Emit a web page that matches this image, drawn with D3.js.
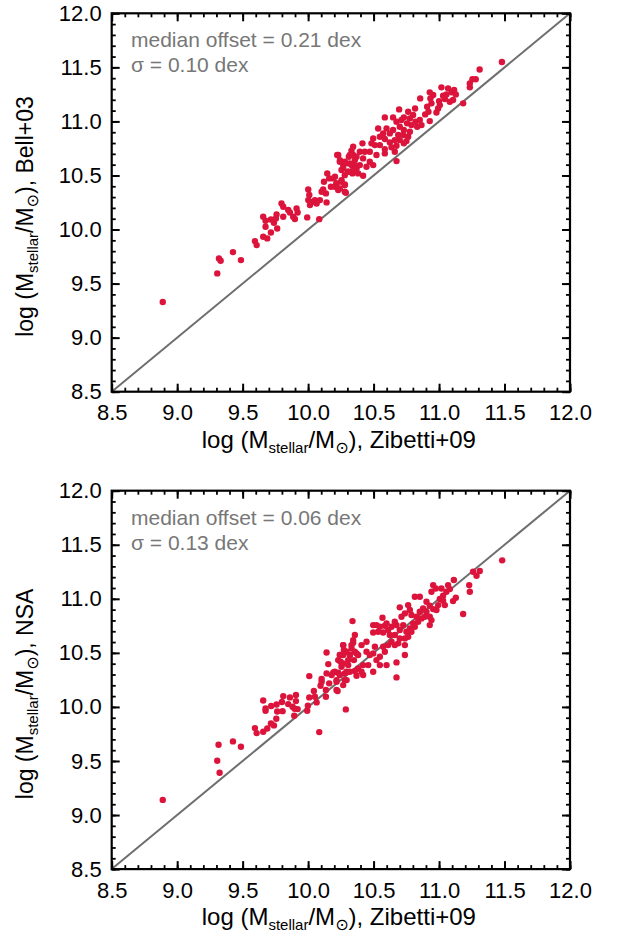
<!DOCTYPE html>
<html>
<head>
<meta charset="utf-8">
<script src="https://cdn.jsdelivr.net/npm/d3@7"></script>
<style>
  html, body { margin: 0; padding: 0; background: #fff; }
  svg { display: block; }
  text { font-family: "Liberation Sans", Arial, Helvetica, sans-serif; }
</style>
</head>
<body>
<svg id="chart" width="618" height="935"></svg>
<script>
// ---------- data ----------
const axisDomain = [8.5, 12.0];
const majorTicks = [8.5, 9.0, 9.5, 10.0, 10.5, 11.0, 11.5, 12.0];
const xTitleSource = "Zibetti+09";
const panelSources = ["Bell+03", "NSA"];
const medianOffsets = ["0.21", "0.06"];
const sigmas = ["0.10", "0.13"];

// [Zibetti+09, Bell+03]
const bellPoints = [
 [8.89,9.33],[9.306,9.594],[9.319,9.733],[9.332,9.711],[9.426,9.791],[9.487,9.717],
 [9.594,9.893],[9.607,9.856],[9.657,9.933],[9.688,9.918],[9.657,10.118],[9.675,10.081],
 [9.675,10.026],[9.716,10.093],[9.716,9.973],[9.739,10.063],[9.754,10.103],[9.759,10.14],
 [9.764,10.01],[9.797,10.241],[9.81,10.211],[9.81,10.118],[9.848,10.18],[9.861,10.158],
 [9.886,10.118],[9.899,10.097],[9.912,10.195],[9.92,10.158],[9.993,10.112],[10.085,10.096],
 [10.001,10.371],[10.009,10.319],[10.001,10.272],[10.039,10.257],[10.014,10.226],[10.065,10.241],
 [10.052,10.272],[10.09,10.272],[10.103,10.349],[10.115,10.371],[10.136,10.334],[10.141,10.251],
 [10.121,10.442],[10.146,10.519],[10.161,10.473],[10.174,10.396],[10.205,10.488],[10.217,10.427],
 [10.23,10.365],[10.255,10.457],[10.281,10.417],[10.288,10.34],[10.222,10.689],[10.243,10.642],
 [10.268,10.596],[10.255,10.55],[10.294,10.612],[10.332,10.596],[10.357,10.642],[10.37,10.565],
 [10.306,10.534],[10.339,10.519],[10.311,10.673],[10.344,10.689],
 [11.48,11.55],[11.31,11.48],[11.28,11.39],[11.255,11.39],[11.235,11.35],[11.235,11.315],
 [11.184,11.167],[11.115,11.29],[11.095,11.27],[11.128,11.25],[11.107,11.198],[11.069,11.306],
 [11.056,11.25],[11.031,11.238],[11.018,11.315],[11.0,11.188],[11.044,11.207],[10.955,11.244],
 [10.934,11.213],[10.942,11.167],[10.993,11.12],[10.98,11.083],[10.909,11.136],[10.919,11.09],
 [10.894,11.065],[10.929,11.003],[10.856,11.213],[10.817,11.12],[10.764,11.09],[10.695,11.111],
 [10.731,11.037],[10.649,11.037],[10.586,11.037],[10.853,11.013],[10.82,10.997],[10.789,10.966],
 [10.756,10.982],[10.833,10.951],[10.866,10.966],[10.7,10.951],[10.675,10.997],[10.731,10.92],
 [10.777,10.905],[10.764,10.858],[10.726,10.874],[10.688,10.874],[10.649,10.92],[10.624,10.889],
 [10.599,10.935],[10.573,10.889],[10.535,10.935],[10.497,10.843],[10.548,10.858],[10.586,10.837],
 [10.624,10.806],[10.662,10.827],[10.7,10.827],[10.731,10.797],[10.751,10.818],[10.675,10.775],
 [10.637,10.76],[10.586,10.744],[10.548,10.781],[10.51,10.781],[10.484,10.797],[10.415,10.797],
 [10.471,10.72],[10.522,10.689],[10.433,10.72],[10.395,10.72],[10.344,10.766],[10.331,10.729],
 [10.319,10.689],[10.37,10.673],[10.42,10.658],[10.471,10.627],[10.497,10.596],[10.446,10.581],
 [10.395,10.596],[10.357,10.596],[10.319,10.611],[10.28,10.627],[10.242,10.627],[10.23,10.689],
 [10.268,10.565],[10.306,10.534],[10.344,10.55],[10.382,10.519],[10.42,10.497],[10.28,10.503],
 [10.675,10.633],[10.662,10.72],[10.586,10.704],[10.191,10.473],[10.217,10.426],[10.255,10.442],
 [10.28,10.411],[10.28,10.35],[10.242,10.38],[10.204,10.396],
 [10.777,11.028],[10.802,11.059],[10.713,11.013],[10.929,11.269],[11.006,11.151],[11.082,11.182]
];

// [Zibetti+09, NSA]
const nsaPoints = [
 [8.89,9.14],[9.306,9.502],[9.316,9.65],[9.324,9.391],[9.426,9.681],[9.487,9.632],
 [9.594,9.804],[9.607,9.758],[9.657,9.77],[9.688,9.801],[9.716,9.847],[9.739,9.829],
 [9.757,9.89],[9.657,10.06],[9.675,9.986],[9.675,9.965],[9.718,10.008],[9.759,10.023],
 [9.764,9.958],[9.8,10.045],[9.81,10.1],[9.805,9.961],[9.848,10.026],[9.861,10.088],
 [9.881,10.002],[9.897,9.983],[9.907,10.11],[9.907,10.054],[9.92,9.98],[9.894,9.918],
 [9.993,9.965],[9.998,10.011],[10.009,10.088],[10.009,10.285],[10.085,9.767],[10.044,10.147],
 [10.052,10.094],[10.065,10.042],[10.095,10.196],[10.103,10.233],[10.103,10.258],[10.136,10.156],
 [10.136,10.094],[10.141,10.31],[10.154,10.396],[10.141,10.504],[10.161,10.218],[10.179,10.295],
 [10.192,10.319],[10.217,10.248],[10.225,10.147],[10.23,10.316],[10.243,10.48],[10.248,10.418],
 [10.255,10.372],[10.268,10.572],[10.273,10.526],[10.288,9.977],[10.294,10.248],[10.294,10.326],
 [10.306,10.387],[10.319,10.48],[10.332,10.541],[10.344,10.594],[10.35,10.433],[10.37,10.495],
 [11.482,11.356],[11.311,11.257],[11.286,11.214],[11.26,11.251],[11.23,11.127],[11.235,11.066],
 [11.184,10.859],[11.113,11.174],[11.128,11.01],[11.107,10.979],[11.069,11.127],[11.082,11.09],
 [11.056,11.066],[11.031,11.029],[11.018,11.096],[11.006,10.998],[10.975,11.096],[10.955,11.127],
 [10.942,11.066],[10.904,10.973],[10.929,10.936],[10.955,10.905],[10.904,10.881],[10.98,10.896],
 [10.993,10.942],[11.044,10.942],[11.031,10.982],[10.815,11.019],[10.853,11.019],[10.764,10.942],
 [10.7,10.921],[10.777,10.896],[10.739,10.865],[10.713,10.834],[10.789,10.85],[10.828,10.834],
 [10.853,10.881],[10.878,10.911],[10.866,10.819],[10.891,10.834],[10.929,10.834],[10.84,10.788],
 [10.802,10.773],[10.815,10.742],[10.777,10.726],[10.751,10.695],[10.726,10.757],[10.7,10.711],
 [10.675,10.757],[10.662,10.788],[10.637,10.742],[10.599,10.773],[10.568,10.825],[10.586,10.751],
 [10.548,10.742],[10.522,10.757],[10.497,10.757],[10.497,10.689],[10.535,10.696],[10.573,10.689],
 [10.611,10.711],[10.624,10.665],[10.662,10.665],[10.7,10.634],[10.739,10.634],[10.764,10.649],
 [10.789,10.695],[10.929,10.757],[10.942,10.803],[10.339,10.794],[10.357,10.665],[10.344,10.618],
 [10.331,10.572],[10.268,10.572],[10.293,10.51],[10.268,10.48],[10.242,10.48],[10.23,10.433],
 [10.268,10.402],[10.306,10.433],[10.319,10.48],[10.357,10.51],[10.382,10.48],[10.408,10.572],
 [10.446,10.603],[10.446,10.51],[10.471,10.48],[10.497,10.495],[10.51,10.557],[10.522,10.433],
 [10.548,10.464],[10.586,10.51],[10.573,10.557],[10.611,10.572],[10.637,10.603],[10.662,10.572],
 [10.688,10.588],[10.739,10.572],[10.739,10.48],[10.675,10.412],[10.675,10.273],[10.599,10.387],
 [10.548,10.387],[10.497,10.325],[10.459,10.387],[10.42,10.295],[10.408,10.325],[10.382,10.356],
 [10.357,10.332],[10.37,10.288],[10.319,10.325],[10.28,10.31],[10.242,10.295],[10.204,10.325],
 [10.217,10.233],[10.268,10.202],[10.217,10.156],[10.28,10.248],[10.42,10.387]
];

const panelData = [bellPoints, nsaPoints];

// ---------- layout ----------
const svg = d3.select("#chart");
const plotLeft = 111.7, plotRight = 570;
const panelTops = [13.3, 490.7];
const plotH = 378.4;
const dotColor = "#dc143c";
const lineColor = "#6e6e6e";
const annoColor = "#777777";
const fmt = d3.format(".1f");
const minorTicks = d3.range(85, 121, 1).map(v => v / 10);

panelTops.forEach((top, i) => {
  const x = d3.scaleLinear().domain(axisDomain).range([plotLeft, plotRight]);
  const y = d3.scaleLinear().domain(axisDomain).range([top + plotH, top]);
  const g = svg.append("g");

  // diagonal 1:1 line
  g.append("line")
    .attr("x1", x(axisDomain[0])).attr("y1", y(axisDomain[0]))
    .attr("x2", x(axisDomain[1])).attr("y2", y(axisDomain[1]))
    .attr("stroke", lineColor).attr("stroke-width", 2);

  // points
  g.append("g").selectAll("circle").data(panelData[i]).join("circle")
    .attr("cx", d => x(d[0])).attr("cy", d => y(d[1]))
    .attr("r", 3.2).attr("fill", dotColor);

  // minor ticks (all sides)
  const minorAxes = [
    [d3.axisBottom(x), `translate(0,${top + plotH})`],
    [d3.axisTop(x), `translate(0,${top})`],
    [d3.axisLeft(y), `translate(${plotLeft},0)`],
    [d3.axisRight(y), `translate(${plotRight},0)`]
  ];
  minorAxes.forEach(([ax, tr]) => {
    const a = g.append("g").attr("transform", tr)
      .call(ax.tickValues(minorTicks).tickSize(-4).tickFormat(""));
    a.select(".domain").remove();
    a.selectAll("line").attr("stroke", "#000").attr("stroke-width", 1.8);
  });

  // major ticks with labels
  const xb = g.append("g").attr("transform", `translate(0,${top + plotH})`)
    .call(d3.axisBottom(x).tickValues(majorTicks).tickSize(-8).tickPadding(13).tickFormat(fmt));
  const xt = g.append("g").attr("transform", `translate(0,${top})`)
    .call(d3.axisTop(x).tickValues(majorTicks).tickSize(-8).tickFormat(""));
  const yl = g.append("g").attr("transform", `translate(${plotLeft},0)`)
    .call(d3.axisLeft(y).tickValues(majorTicks).tickSize(-8).tickPadding(10).tickFormat(fmt));
  const yr = g.append("g").attr("transform", `translate(${plotRight},0)`)
    .call(d3.axisRight(y).tickValues(majorTicks).tickSize(-8).tickFormat(""));
  [xb, xt, yl, yr].forEach(a => {
    a.select(".domain").remove();
    a.selectAll("line").attr("stroke", "#000").attr("stroke-width", 2);
    a.selectAll("text").attr("fill", "#000").style("font-size", "22px")
      .style("font-family", "'Liberation Sans', Arial, sans-serif");
  });

  // frame
  g.append("rect")
    .attr("x", plotLeft).attr("y", top)
    .attr("width", plotRight - plotLeft).attr("height", plotH)
    .attr("fill", "none").attr("stroke", "#000").attr("stroke-width", 2.2);

  // annotations
  g.append("text").attr("x", 131).attr("y", top + 34)
    .attr("fill", annoColor).style("font-size", "21px")
    .text(`median offset = ${medianOffsets[i]} dex`);
  g.append("text").attr("x", 131).attr("y", top + 59)
    .attr("fill", annoColor).style("font-size", "21px")
    .text(`\u03c3 = ${sigmas[i]} dex`);

  // x title
  const xtitle = g.append("text")
    .attr("x", (plotLeft + plotRight) / 2 - 2).attr("y", top + plotH + 56)
    .attr("text-anchor", "middle").attr("fill", "#000").style("font-size", "24px");
  buildTitle(xtitle, xTitleSource);

  // y title
  const ytitle = g.append("text")
    .attr("transform", `translate(33,${top + plotH / 2 + 14}) rotate(-90)`)
    .attr("text-anchor", "middle").attr("fill", "#000").style("font-size", "23px");
  buildTitle(ytitle, panelSources[i]);
});

function buildTitle(t, source) {
  t.append("tspan").text("log (M");
  t.append("tspan").attr("dy", 5).style("font-size", "15px").text("stellar");
  t.append("tspan").attr("dy", -5).text("/M");
  t.append("tspan").attr("dy", 5).style("font-size", "16px")
    .style("font-family", "'DejaVu Sans', sans-serif").text("\u2299");
  t.append("tspan").attr("dy", -5).text(`), ${source}`);
}
</script>
</body>
</html>
